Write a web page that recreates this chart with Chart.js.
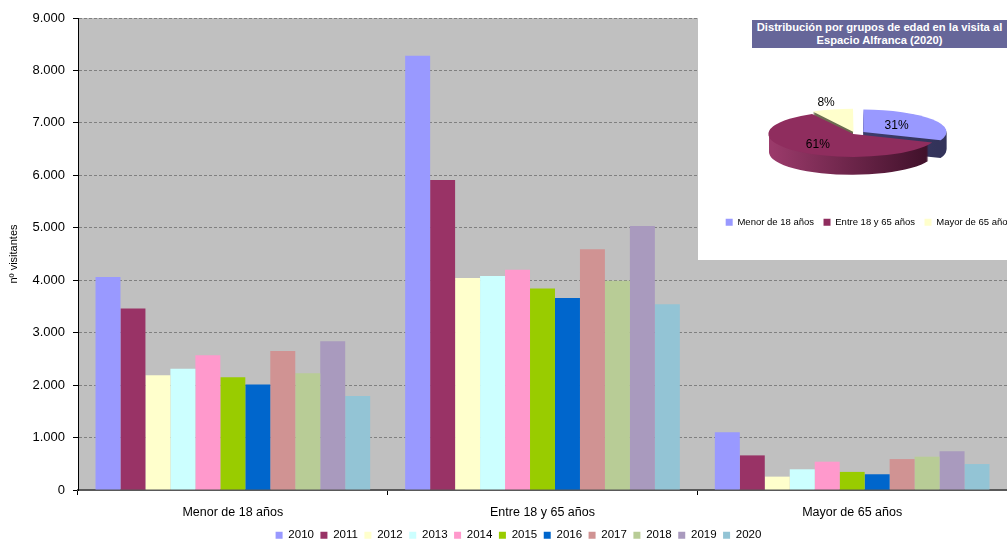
<!DOCTYPE html>
<html>
<head>
<meta charset="utf-8">
<script src="https://cdn.jsdelivr.net/npm/chart.js@4/dist/chart.umd.min.js"></script>
<style>
  html, body { margin: 0; padding: 0; width: 1007px; height: 540px; overflow: hidden; background: #fff; }
  #principal { position: absolute; left: 0; top: 0; }
  #recuadro { position: absolute; left: 698px; top: 0; width: 309px; height: 260px; background: #fff; }
  #tarta { position: absolute; left: 698px; top: 0; }
  #tituloTarta {
    position: absolute; left: 752px; top: 20px; width: 255px; height: 27px;
    background: #666699; color: #fff; font: bold 11.2px Arial, "Liberation Sans", sans-serif;
    text-align: center; line-height: 12.5px; padding-top: 1px; white-space: nowrap; overflow: hidden;
  }
</style>
</head>
<body>
<canvas id="principal" width="1037" height="551"></canvas>
<div id="recuadro"></div>
<canvas id="tarta" width="400" height="270"></canvas>
<div id="tituloTarta">Distribución por grupos de edad en la visita al<br>Espacio Alfranca (2020)</div>
<script>
// Datos
const grupos = ["Menor de 18 años", "Entre 18 y 65 años", "Mayor de 65 años"];
const anios = ["2010", "2011", "2012", "2013", "2014", "2015", "2016", "2017", "2018", "2019", "2020"];
const menor18 = [4060, 3460, 2190, 2310, 2570, 2150, 2010, 2650, 2225, 2835, 1790];
const entre18y65 = [8280, 5910, 4040, 4080, 4200, 3840, 3660, 4590, 3990, 5035, 3540];
const mayor65 = [1100, 660, 255, 395, 540, 345, 300, 590, 635, 740, 495];
const coloresAnio = ["#9999FF", "#993366", "#FFFFCC", "#CCFFFF", "#FF99CC", "#99CC00",
                     "#0066CC", "#D09393", "#B8CC96", "#A99ABE", "#93C4D5"];

// Tarta 2020 (%)
const reparto2020 = [31, 61, 8];
const coloresTarta = ["#9999FF", "#8F2D5E", "#FFFFCC"];
const ladosTarta = [["#4a4a82", "#33335a"], ["#9a3a6a", "#3a0e26"], ["#77775a", "#5a5a40"]];
const radioEtiqueta = [0.48, 0.62, 1.3];

const FUENTE = 'Arial, "Liberation Sans", sans-serif';
const fmtMiles = v => v.toString().replace(/\B(?=(\d{3})+(?!\d))/g, ".");

// fondo gris del área de trazado + leyenda algo desplazada a la derecha
const fondoGris = {
    id: "fondoGris",
    afterLayout(chart) {
        chart.legend.left += 15;
        chart.legend.right += 15;
    },
    beforeDraw(chart) {
        const { ctx, chartArea: a } = chart;
        ctx.save();
        ctx.fillStyle = "#C0C0C0";
        ctx.fillRect(a.left, a.top, a.right - a.left, a.bottom - a.top);
        ctx.restore();
    }
};

new Chart(document.getElementById("principal"), {
    type: "bar",
    data: {
        labels: grupos,
        datasets: anios.map((a, i) => ({
            label: a,
            data: [menor18[i], entre18y65[i], mayor65[i]],
            backgroundColor: coloresAnio[i],
            borderWidth: 0
        }))
    },
    options: {
        responsive: false,
        animation: false,
        layout: { padding: { left: 0, right: 30, top: 18, bottom: 0 } },
        datasets: { bar: { barPercentage: 1, categoryPercentage: 0.887 } },
        plugins: {
            legend: {
                position: "bottom",
                labels: { boxWidth: 7, boxHeight: 7, padding: 6.5, color: "#000", font: { family: FUENTE, size: 11.5 } }
            },
            tooltip: { enabled: false }
        },
        scales: {
            x: {
                afterFit: s => { s.height = 33; },
                grid: { offset: true, drawOnChartArea: false, drawTicks: true, tickLength: 5, color: "#000", tickColor: "#000" },
                border: { color: "#595959", width: 2 },
                ticks: { color: "#000", padding: 10, font: { family: FUENTE, size: 12.5 } }
            },
            y: {
                min: 0, max: 9000,
                afterFit: s => { s.width = 78; },
                title: { display: true, text: "nº visitantes", color: "#000", font: { family: FUENTE, size: 11 }, padding: { top: 7, bottom: 0 } },
                grid: { color: "#808080", tickColor: "#000", tickLength: 5, tickBorderDash: [] },
                border: { color: "#000", width: 1, dash: [3, 2] },
                ticks: { stepSize: 1000, color: "#000", padding: 8, font: { family: FUENTE, size: 13 }, callback: v => fmtMiles(v) }
            }
        }
    },
    plugins: [fondoGris]
});

// ---- tarta 3D (aplastada) ----
const APLASTE = 0.27;
const GROSOR = 18;

function desplazamiento(arc) {
    // mismo desplazamiento que aplica ArcElement.draw con "offset"
    const o = (arc.options.offset || 0) / 4;
    const circ = arc.endAngle - arc.startAngle;
    const fix = 1 - Math.sin(Math.min(Math.PI, circ));
    const t = o * (1 + fix);
    const h = (arc.startAngle + arc.endAngle) / 2;
    return { dx: Math.cos(h) * t, dy: Math.sin(h) * t };
}

const tarta3d = {
    id: "tarta3d",
    afterLayout(chart) {
        // la leyenda de la tarta va algo más arriba y a la derecha
        const lg = chart.legend;
        lg.left += 14; lg.right += 14;
        lg.top -= 28; lg.bottom -= 28;
    },
    beforeDatasetsDraw(chart) {
        const ctx = chart.ctx;
        const arcs = chart.getDatasetMeta(0).data;
        const cy = arcs[0].y;
        ctx.save();
        ctx.translate(0, cy * (1 - APLASTE));
        ctx.scale(1, APLASTE);
        const fills = arcs.map((a, i) => {
            const g = ctx.createLinearGradient(a.x - a.outerRadius, 0, a.x + a.outerRadius, 0);
            g.addColorStop(0, ladosTarta[i][0]);
            g.addColorStop(1, ladosTarta[i][1]);
            return g;
        });
        for (let d = GROSOR; d > 0; d--) {
            arcs.forEach((a, i) => {
                const { dx, dy } = desplazamiento(a);
                const x = a.x + dx, y = a.y + dy + d / APLASTE;
                ctx.beginPath();
                ctx.moveTo(x, y);
                ctx.arc(x, y, a.outerRadius, a.startAngle, a.endAngle);
                ctx.closePath();
                ctx.fillStyle = fills[i];
                ctx.fill();
            });
        }
    },
    afterDatasetsDraw(chart) {
        const ctx = chart.ctx;
        ctx.restore();
        const arcs = chart.getDatasetMeta(0).data;
        const cy = arcs[0].y;
        ctx.save();
        ctx.fillStyle = "#000";
        ctx.font = "12px " + FUENTE;
        ctx.textAlign = "center";
        ctx.textBaseline = "middle";
        arcs.forEach((a, i) => {
            const { dx, dy } = desplazamiento(a);
            const h = (a.startAngle + a.endAngle) / 2;
            const f = radioEtiqueta[i];
            const x = a.x + dx + Math.cos(h) * a.outerRadius * f;
            const y = cy + (a.y + dy + Math.sin(h) * a.outerRadius * f - cy) * APLASTE;
            ctx.fillText(reparto2020[i] + "%", x, y);
        });
        ctx.restore();
    }
};

new Chart(document.getElementById("tarta"), {
    type: "pie",
    data: {
        labels: grupos,
        datasets: [{
            data: reparto2020,
            backgroundColor: coloresTarta,
            borderWidth: 0,
            offset: [40, 10, 24],
            clip: false
        }]
    },
    options: {
        responsive: false,
        animation: false,
        layout: { padding: { left: 0, right: 86, top: 31, bottom: 5 } },
        plugins: {
            legend: {
                position: "bottom",
                labels: { boxWidth: 7, boxHeight: 7, padding: 9.5, color: "#000", font: { family: FUENTE, size: 9.5 } }
            },
            tooltip: { enabled: false }
        }
    },
    plugins: [tarta3d]
});
</script>
</body>
</html>
